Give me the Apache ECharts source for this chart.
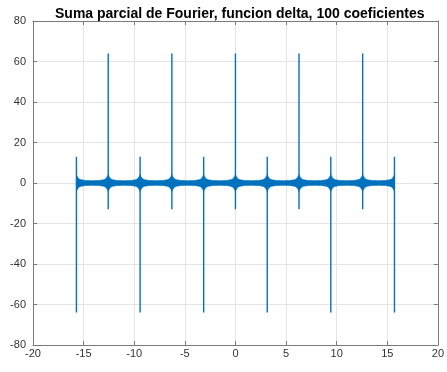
<!DOCTYPE html>
<html>
<head>
<meta charset="utf-8">
<script src="https://cdn.jsdelivr.net/npm/echarts@6/dist/echarts.min.js"></script>
<style>
  html, body { margin: 0; padding: 0; background: #ffffff; }
  #chart { width: 447px; height: 372px; }
</style>
</head>
<body>
<div id="chart"></div>
<script>
// Partial Fourier sum of the delta: spikes at multiples of pi
const spikeX    = [-15.71, -12.57, -9.42, -6.28, -3.14, 0, 3.14, 6.28, 9.42, 12.57, 15.71];
const spikePeak = [-64, 64, -64, 64, -64, 64, -64, 64, -64, 64, -64];
const spikeLobe = [13, -13, 13, -13, 13, -13, 13, -13, 13, -13, 13];

// Envelope of the fast ripple around each spike (distance from spike, half height)
const rippleOffset    = [0, 0.05, 0.12, 0.2, 0.3, 0.45, 0.65, 0.9, 1.2, 1.57];
const rippleHalfWidth = [4.2, 3.6, 3.0, 2.4, 1.95, 1.65, 1.42, 1.28, 1.2, 1.15];

const xTicks = [-20, -15, -10, -5, 0, 5, 10, 15, 20];
const yTicks = [-80, -60, -40, -20, 0, 20, 40, 60, 80];

const lineColor = '#0072BD';
const xMin = spikeX[0], xMax = spikeX[spikeX.length - 1];

// Upper envelope of the ripple band, left to right
const envelope = [];
spikeX.forEach(function (sx) {
  for (let k = rippleOffset.length - 1; k >= 1; k--) {
    const x = sx - rippleOffset[k];
    if (x >= xMin) envelope.push([x, rippleHalfWidth[k]]);
  }
  envelope.push([sx, rippleHalfWidth[0]]);
  for (let k = 1; k < rippleOffset.length; k++) {
    const x = sx + rippleOffset[k];
    if (x <= xMax) envelope.push([x, rippleHalfWidth[k]]);
  }
});

// Spike path: each spike is a vertical stroke from its side lobe to its peak
const spikePath = [];
spikeX.forEach(function (sx, i) {
  spikePath.push([sx, 0], [sx, spikeLobe[i]], [sx, spikePeak[i]], [sx, 0]);
});

const axisColor = '#7a7a7a';
const labelColor = '#333333';
const font = 'Liberation Sans, Arial, Helvetica, sans-serif';

const chart = echarts.init(document.getElementById('chart'), null, { renderer: 'canvas' });
chart.setOption({
  animation: false,
  backgroundColor: '#ffffff',
  title: {
    text: 'Suma parcial de Fourier, funcion delta, 100 coeficientes',
    left: 50, top: 2,
    textStyle: { fontFamily: font, fontSize: 14, fontWeight: 'bold', color: '#000000' }
  },
  grid: { left: 33, right: 3.5, top: 21, bottom: 27, containLabel: false },
  xAxis: [{
    type: 'value', min: -20, max: 20, interval: 5,
    axisLine: { show: true, onZero: false, lineStyle: { color: axisColor, width: 1 } },
    axisTick: { show: true, inside: true, length: 4, lineStyle: { color: axisColor } },
    axisLabel: { color: labelColor, fontFamily: font, fontSize: 11, margin: 3,
      formatter: function (v) { return xTicks.indexOf(v) >= 0 ? String(v) : ''; } },
    splitLine: { show: true, lineStyle: { color: '#e4e4e4', width: 1 } }
  }, {
    type: 'value', position: 'top', min: -20, max: 20, interval: 5,
    axisLine: { show: true, onZero: false, lineStyle: { color: axisColor, width: 1 } },
    axisTick: { show: true, inside: true, length: 4, lineStyle: { color: axisColor } },
    axisLabel: { show: false }, splitLine: { show: false }
  }],
  yAxis: [{
    type: 'value', min: -80, max: 80, interval: 20,
    axisLine: { show: true, onZero: false, lineStyle: { color: axisColor, width: 1 } },
    axisTick: { show: true, inside: true, length: 4, lineStyle: { color: axisColor } },
    axisLabel: { color: labelColor, fontFamily: font, fontSize: 11, margin: 7,
      formatter: function (v) { return yTicks.indexOf(v) >= 0 ? String(v) : ''; } },
    splitLine: { show: true, lineStyle: { color: '#e4e4e4', width: 1 } }
  }, {
    type: 'value', position: 'right', min: -80, max: 80, interval: 20,
    axisLine: { show: true, onZero: false, lineStyle: { color: axisColor, width: 1 } },
    axisTick: { show: true, inside: true, length: 4, lineStyle: { color: axisColor } },
    axisLabel: { show: false }, splitLine: { show: false }
  }],
  series: [{
    // dense ripple band drawn as a filled envelope
    type: 'custom',
    xAxisIndex: 0, yAxisIndex: 0,
    data: [[0, 0]],
    renderItem: function (params, api) {
      const pts = [];
      envelope.forEach(function (p) { pts.push(api.coord([p[0], p[1]])); });
      for (let j = envelope.length - 1; j >= 0; j--) {
        pts.push(api.coord([envelope[j][0], -envelope[j][1]]));
      }
      return { type: 'polygon', shape: { points: pts }, style: { fill: lineColor, stroke: lineColor, lineWidth: 0.6 } };
    },
    silent: true, z: 2
  }, {
    type: 'line',
    xAxisIndex: 0, yAxisIndex: 0,
    data: spikePath,
    showSymbol: false,
    lineStyle: { color: lineColor, width: 1.4 },
    silent: true, z: 3
  }]
});
</script>
</body>
</html>
